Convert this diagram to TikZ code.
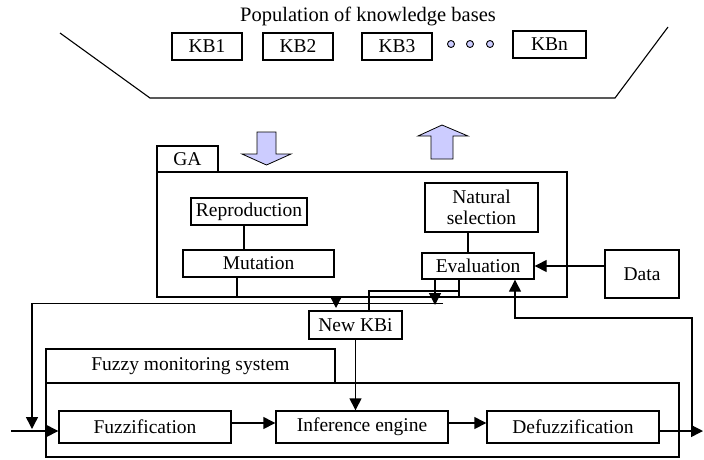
\documentclass[tikz,border=0pt]{standalone}
\usepackage{fontspec}
\setmainfont{Liberation Serif}
\usetikzlibrary{arrows.meta,calc}
\definecolor{lav}{HTML}{CCCCFF}
\begin{document}
\begin{tikzpicture}[x=1pt,y=-1pt,
  box/.style={draw,line width=1.4pt,inner sep=0pt,align=center,font=\fontsize{19.5}{21}\selectfont},
  ln/.style={line width=1.4pt},
  arr/.style={line width=1.4pt,-{Triangle[length=12pt,width=12pt]}},
  blk/.style={draw,line width=0.8pt,fill=lav},
  dot/.style={circle,draw,line width=0.9pt,fill=lav,minimum size=7pt,inner sep=0pt},
]
\useasboundingbox (0,0) rectangle (704,459);
% population
\node[font=\fontsize{20.5}{22}\selectfont] (title) at (368,16) {Population of knowledge bases};
\draw[line width=1.1pt] (60,33) -- (150,98) -- (615,98) -- (668,27);
\node[box,minimum width=70pt,minimum height=27pt] (kb1) at (207,46.5) {KB1};
\node[box,minimum width=70pt,minimum height=27pt] (kb2) at (298,46.5) {KB2};
\node[box,minimum width=70pt,minimum height=27pt] (kb3) at (397,46.5) {KB3};
\node[dot] (d1) at (451,44) {};
\node[dot] (d2) at (470,44) {};
\node[dot] (d3) at (490,44) {};
\node[box,minimum width=73pt,minimum height=27pt] (kbn) at (549.5,44.5) {KBn};
% block arrows
\draw[blk] (257,132) -- (276,132) -- (276,154) -- (291,154) -- (266.5,165) -- (242,154) -- (257,154) -- cycle;
\draw[blk] (431,159) -- (453,159) -- (453,136) -- (468,136) -- (442,125) -- (418,136) -- (431,136) -- cycle;
% GA
\node[box,minimum width=410pt,minimum height=125pt] (ga) at (362,234.5) {};
\node[box,minimum width=61pt,minimum height=26pt] (gatab) at (187.5,159) {GA};
\node[box,minimum width=116pt,minimum height=27pt] (repro) at (249,211.5) {Reproduction};
\node[box,minimum width=151pt,minimum height=27pt] (mut) at (258.5,263.5) {Mutation};
\node[box,minimum width=113pt,minimum height=49pt] (nat) at (481.5,207.5) {Natural\\selection};
\node[box,minimum width=112pt,minimum height=26pt] (eval) at (478,266) {Evaluation};
\node[box,minimum width=74pt,minimum height=48pt] (data) at (642,274) {Data};
\node[box,minimum width=93pt,minimum height=28pt] (newkb) at (355.5,325) {New KBi};
% fuzzy system
\node[box,minimum width=633pt,minimum height=74pt] (fz) at (362.5,420) {};
\node[box,minimum width=289pt,minimum height=34pt] (fztab) at (190.5,366) {Fuzzy monitoring system};
\node[box,minimum width=172pt,minimum height=32pt] (fuzz) at (145,427) {Fuzzification};
\node[box,minimum width=172pt,minimum height=32pt] (inf) at (362,427) {Inference engine};
\node[box,minimum width=172pt,minimum height=32pt] (defuzz) at (573,427) {Defuzzification};
% helper coordinates
\coordinate (cRM) at (244,0);
\coordinate (cNE) at (468,0);
\coordinate (cM) at (237,0);
\coordinate (cK) at (336,0);
\coordinate (cE1) at (435,0);
\coordinate (cE2) at (459,0);
\coordinate (cN) at (369,0);
\coordinate (cF) at (515,0);
\coordinate (yIn) at (0,431);
\coordinate (yMid) at (0,423);
\coordinate (tipK) at (336,308);
\coordinate (tipE) at (435,305);
\coordinate (lR) at (443,303.5);
\coordinate (lL) at (32,303.5);
\coordinate (lD) at (32,429);
\coordinate (inS) at (11,431);
\coordinate (outE) at (703,431);
\coordinate (fbB) at (692,431);
\coordinate (fbT) at (692,318);
\coordinate (fbL) at (515,318);
\coordinate (nkT) at (369,291);
% connectors
\draw[ln] (cRM |- repro.south) -- (cRM |- mut.north);
\draw[ln] (cNE |- nat.south) -- (cNE |- eval.north);
\draw[arr] (data.west |- eval.east) -- (eval.east);
\draw[ln] (cM |- mut.south) -- (cM |- ga.south);
\draw[arr] (cK |- ga.south) -- (tipK);
\draw[arr] (cE1 |- eval.south) -- (tipE);
\draw[ln] (cE2 |- eval.south) -- (cE2 |- ga.south);
\draw[ln] (cN |- newkb.north) -- (nkT) -- (cE2 |- nkT);
\draw[arr] (lR) -- (lL) -- (lD);
\draw[arr] (inS) -- (fuzz.west |- yIn);
\draw[arr] (fuzz.east |- yMid) -- (inf.west |- yMid);
\draw[arr] (inf.east |- yMid) -- (defuzz.west |- yMid);
\draw[arr] (newkb.south) -- (newkb.south |- inf.north);
\draw[arr] (defuzz.east |- yIn) -- (outE);
\draw[arr] (fbB) -- (fbT) -- (fbL) -- (cF |- eval.south);
\end{tikzpicture}
\end{document}
